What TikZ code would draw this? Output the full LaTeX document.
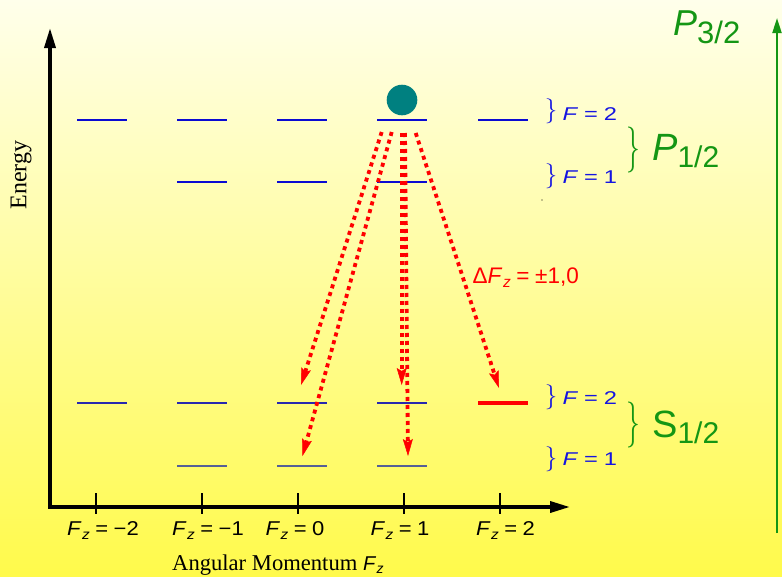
\documentclass[tikz,border=0pt]{standalone}
\usepackage{fontspec}
\setmainfont{Liberation Serif}
\newfontfamily\sansf{Liberation Sans}
\newfontfamily\bracef{Latin Modern Roman}
\usetikzlibrary{arrows.meta,decorations.pathreplacing}
\definecolor{lvlP}{RGB}{10,10,210}
\definecolor{lvlSa}{RGB}{40,40,175}
\definecolor{lvlSb}{RGB}{85,95,150}
\definecolor{txtblue}{RGB}{20,20,225}
\definecolor{grn}{RGB}{20,150,20}
\definecolor{tealdot}{RGB}{0,128,128}
\definecolor{bgtop}{RGB}{255,255,235}
\definecolor{bgbot}{RGB}{255,250,75}
\newcommand\pxs[1]{\fontsize{#1}{#1}\selectfont}
\newcommand\eqs{\hspace{0.25em}=\hspace{0.25em}}
\newcommand\Fzsym[2]{\textit{F}\kern0.5pt\raisebox{-#2}{\pxs{#1}\textit{z}}}
\tikzset{
  lvl/.style={line width=1.5pt},
  axis/.style={line width=3.5pt, line join=miter},
  tickmark/.style={line width=2.2pt},
  emit/.style={red, line width=3.8pt, dash pattern=on 4pt off 4pt,
    -{Stealth[length=17pt,width=10pt,inset=3pt,line width=0.5pt]}},
  flab/.style={anchor=base west, inner sep=0pt, text=txtblue, font=\sansf\pxs{18.5pt}},
  bbrace/.style={inner sep=0pt, text=txtblue, font=\bracef\pxs{25pt}},
  gbrace/.style={inner sep=0pt, text=grn, font=\bracef\pxs{46pt}},
  glab/.style={anchor=base west, inner sep=0pt, text=grn, font=\sansf},
  ticklab/.style={anchor=base, inner sep=0pt, font=\sansf\pxs{20pt}},
}
\begin{document}
\begin{tikzpicture}[x=1pt,y=-1pt]
\shade[top color=bgtop, bottom color=bgbot] (0,0) rectangle (782,576);
\useasboundingbox (0,0) rectangle (782,576);

% axes
\coordinate (ytip) at (50,28);
\coordinate (orig) at (50,507);
\coordinate (xtip) at (570,507);
\draw[axis, {Triangle[length=20pt,width=11pt]}-{Triangle[length=20pt,width=11pt]}] (ytip) -- (orig) -- (xtip);

% ticks and labels
\foreach \n/\x in {m2/96, m1/202, z0/298, p1/404, p2/500}{
  \coordinate (t\n a) at (\x,493);
  \coordinate (t\n b) at (\x,514);
  \draw[tickmark] (t\n a) -- (t\n b);
}
\node[ticklab] (lm2) at (103,535) {\scalebox{1.1}[1]{\Fzsym{14pt}{4pt}\eqs−2}};
\node[ticklab] (lm1) at (208,535) {\scalebox{1.1}[1]{\Fzsym{14pt}{4pt}\eqs−1}};
\node[ticklab] (lz0) at (295,535) {\scalebox{1.1}[1]{\Fzsym{14pt}{4pt}\eqs0}};
\node[ticklab] (lp1) at (400,535) {\scalebox{1.1}[1]{\Fzsym{14pt}{4pt}\eqs1}};
\node[ticklab] (lp2) at (505.5,535) {\scalebox{1.1}[1]{\Fzsym{14pt}{4pt}\eqs2}};

% axis titles
\node[rotate=90, inner sep=0pt, font=\pxs{24pt}] (energy) at (21,175) {Energy};
\node[anchor=base west, inner sep=0pt, font=\pxs{22.6pt}] (angmom) at (172,570)
  {Angular Momentum {\sansf\pxs{20pt}\Fzsym{14pt}{3pt}}};

% levels
\foreach \n/\x in {a/102, b/202, c/302, d/402, e/503}{
  \coordinate (P2\n L) at (\x-25,120); \coordinate (P2\n R) at (\x+25,120);
  \draw[lvl, lvlP] (P2\n L) -- (P2\n R);
}
\foreach \n/\x in {b/202, c/302, d/402}{
  \coordinate (P1\n L) at (\x-25,182); \coordinate (P1\n R) at (\x+25,182);
  \draw[lvl, lvlP] (P1\n L) -- (P1\n R);
  \coordinate (S1\n L) at (\x-25,466); \coordinate (S1\n R) at (\x+25,466);
  \draw[lvl, lvlSb] (S1\n L) -- (S1\n R);
}
\foreach \n/\x in {a/102, b/202, c/302, d/402}{
  \coordinate (S2\n L) at (\x-25,403); \coordinate (S2\n R) at (\x+25,403);
  \draw[lvl, lvlSa] (S2\n L) -- (S2\n R);
}
\coordinate (S2eL) at (478,403); \coordinate (S2eR) at (528,403);
\draw[red, line width=3.5pt] (S2eL) -- (S2eR);

% atom
\fill[tealdot] (402,100) circle (15.3);

% decay arrows
\coordinate (sa) at (381.7,132); \coordinate (ea) at (301,385);
\coordinate (sb) at (391.7,132); \coordinate (eb) at (302.5,456);
\coordinate (sc) at (401.7,133); \coordinate (ec) at (401.7,385);
\coordinate (sd) at (405,133); \coordinate (ed) at (408,456);
\coordinate (se) at (415.7,133); \coordinate (ee) at (499,388);
\draw[emit] (sa) -- (ea);
\draw[emit] (sb) -- (eb);
\draw[emit] (sc) -- (ec);
\draw[emit] (sd) -- (ed);
\draw[emit] (se) -- (ee);

\node[anchor=base west, inner sep=0pt, text=red, font=\sansf\pxs{22.5pt}] (rule) at (472.5,283.3)
  {Δ\Fzsym{15.5pt}{4pt}\eqs±1,0};

% blue sublevel labels
\node[bbrace] (b1) at (551,111.5) {\}};
\node[bbrace] (b2) at (551,176.5) {\}};
\node[bbrace] (b3) at (551,397.5) {\}};
\node[bbrace] (b4) at (551,459.5) {\}};
\node[flab] (f1) at (562.5,120) {\scalebox{1.28}[1]{\textit{F}\eqs2}};
\node[flab] (f2) at (562.5,183) {\scalebox{1.28}[1]{\textit{F}\eqs1}};
\node[flab] (f3) at (562.5,404) {\scalebox{1.28}[1]{\textit{F}\eqs2}};
\node[flab] (f4) at (562.5,465) {\scalebox{1.28}[1]{\textit{F}\eqs1}};

% green braces and term labels
\node[gbrace] (gP) at (633,150) {\scalebox{0.6}[1]{\}}};
\node[gbrace] (gS) at (633,425) {\scalebox{0.6}[1]{\}}};
\node[glab] (P12) at (652,160.7) {{\pxs{38pt}\textit{P}}\raisebox{-7pt}{\pxs{30pt}1/2}};
\node[glab] (S12) at (652,437.5) {{\pxs{38pt}S}\raisebox{-6pt}{\pxs{30pt}1/2}};
\node[glab] (P32) at (673,35.7) {{\pxs{36pt}\textit{P}}\raisebox{-8pt}{\pxs{31pt}3/2}};

% green energy arrow
\coordinate (gbot) at (777,533); \coordinate (gtop) at (777,18);
\draw[grn, line width=2pt, -{Triangle[length=15pt,width=9pt]}] (gbot) -- (gtop);

% stray dot
\fill (542,200) circle (0.6);
\end{tikzpicture}
\end{document}
